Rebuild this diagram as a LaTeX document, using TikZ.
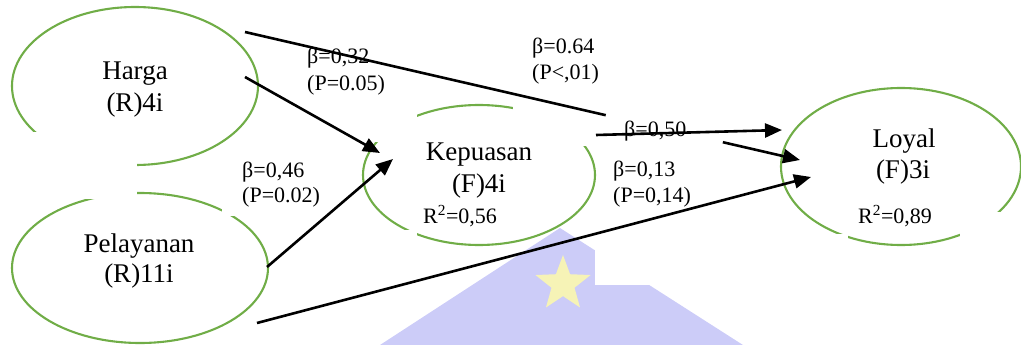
\documentclass[tikz,border=0pt]{standalone}
\usepackage{fontspec}
\setmainfont{Liberation Serif}
\usepackage{tikz}
\usetikzlibrary{arrows.meta,calc,shapes.geometric}
\definecolor{ink}{HTML}{000000}
\definecolor{leaf}{HTML}{70AD47}
\definecolor{wmark}{HTML}{CCCCF8}
\definecolor{wstar}{HTML}{F6F3B6}
\tikzset{
  >={Triangle[length=17pt,width=14pt]},
  latent/.style={ellipse,draw=leaf,line width=2.1pt,inner sep=0pt},
  vartext/.style={font=\fontsize{27}{31}\selectfont,text=ink,inner sep=0pt,anchor=base},
  coef/.style={font=\fontsize{22}{26}\selectfont,text=ink,inner sep=0pt,anchor=base west},
  mask/.style={fill=white,draw=none},
  arrow/.style={->,line width=2.6pt,draw=ink},
  bare/.style={line width=2.6pt,draw=ink}
}

\begin{document}
\begin{tikzpicture}[x=1pt,y=-1pt]
  \useasboundingbox (0,0) rectangle (1021,345);

  % watermark
  \fill[wmark] (380,345) -- (560,228) -- (743,345) -- cycle;
  \fill[mask] (595,230) rectangle (700,285);
  \node[star,star points=5,star point ratio=2.4,fill=wstar,minimum size=58pt,inner sep=0pt] (emblem) at (563,284) {};

  % latent variables
  \node[latent,minimum width=246pt,minimum height=158pt] (harga) at (135,86) {};
  \node[latent,minimum width=256pt,minimum height=150pt] (pelayanan) at (140,268) {};
  \node[latent,minimum width=232pt,minimum height=140pt] (kepuasan) at (479,175) {};
  \node[latent,minimum width=240pt,minimum height=157pt] (loyal) at (901,166.5) {};

  % text boxes cut the outlines
  \foreach \xa/\ya/\xb/\yb in {0/132/137/199, 222/150/330/216, 300/40/417/142, 513/30/600/146,
                               270/229.5/417/262, 800/234/848/262, 960/212/1021/262}
    \fill[mask] (\xa,\ya) rectangle (\xb,\yb);

  \node[vartext] (harga-a) at ($(harga)+(0,-6)$) {Harga};
  \node[vartext] (harga-b) at ($(harga)+(0,26)$) {(R)4i};
  \node[vartext] (pelayanan-a) at ($(pelayanan)+(-1,-16)$) {Pelayanan};
  \node[vartext] (pelayanan-b) at ($(pelayanan)+(-1,14)$) {(R)11i};
  \node[vartext] (kepuasan-a) at ($(kepuasan)+(0,-15)$) {Kepuasan};
  \node[vartext] (kepuasan-b) at ($(kepuasan)+(0,17)$) {(F)4i};
  \node[vartext] (loyal-a) at ($(loyal)+(3,-19.5)$) {Loyal};
  \node[vartext] (loyal-b) at ($(loyal)+(2,11.5)$) {(F)3i};

  % path coefficients
  \node[coef] (b32) at (307,64) {β=0,32};
  \node[coef] (p05) at (307,91) {(P=0.05)};
  \node[coef] (b46) at (242,177) {β=0,46};
  \node[coef] (p02) at (242,202) {(P=0.02)};
  \node[coef] (b64) at (532,54) {β=0.64};
  \node[coef] (p01) at (532,80) {(P<,01)};
  \node[coef] (b50) at (624,136) {β=0,50};
  \node[coef] (b13) at (613,176) {β=0,13};
  \node[coef] (p14) at (613,202) {(P=0,14)};
  \node[coef] (r56) at (423,223) {R\textsuperscript{2}=0,56};
  \node[coef] (r89) at (858,223) {R\textsuperscript{2}=0,89};

  % paths
  \coordinate (hl-a) at ($(harga)+(110,-54)$);
  \coordinate (hl-b) at ($(loyal)+(-101,-6.5)$);
  \draw[bare] (hl-a) -- ($(hl-a)!.65!(hl-b)$);
  \draw[arrow] ($(hl-a)!.861!(hl-b)$) -- (hl-b);
  \draw[arrow] ($(harga)+(110,-9)$) -- ($(kepuasan)+(-99,-22)$);
  \draw[arrow] ($(pelayanan)+(127,-1)$) -- ($(kepuasan)+(-86,-16)$);
  \draw[arrow] ($(pelayanan)+(117,55)$) -- ($(loyal)+(-90,10.5)$);
  \draw[arrow] ($(kepuasan)+(117,-40)$) -- ($(loyal)+(-119,-36.5)$);
\end{tikzpicture}
\end{document}
